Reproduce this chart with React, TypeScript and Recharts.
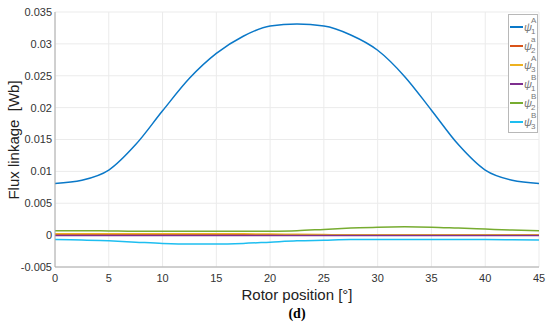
import React from "react";
import { LineChart, Line, XAxis, YAxis, CartesianGrid, Legend } from "recharts";

const positions = [0, 2.5, 5, 7.5, 10, 12.5, 15, 17.5, 20, 22.5, 25, 27.5, 30, 32.5, 35, 37.5, 40, 42.5, 45];

const psi1A = [0.0081, 0.0086, 0.0102, 0.0142, 0.0195, 0.0246, 0.0285, 0.0312, 0.0328, 0.0331, 0.0328, 0.0314, 0.029, 0.0249, 0.0196, 0.0142, 0.0102, 0.0086, 0.0081];
const psi2a = [0.00005, 0.00005, 0.00005, 0.00005, 0.00005, 0.00005, 0.00005, 0.00005, 0.00005, 0.00005, 0.00005, 0.00005, 0.00005, 0.00005, 0.00005, 0.00005, 0.00005, 0.00005, 0.00005];
const psi3A = [0.0002, 0.0002, 0.0002, 0.0002, 0.0002, 0.0002, 0.0002, 0.0002, 0.00018, 0.00012, 0.00008, 0.00005, 0.00005, 0.00005, 0.00005, 0.00005, 0.00005, 0.00005, 0.00005];
const psi1B = [-0.00005, -0.00005, -0.00005, -0.00005, -0.00005, -0.00005, -0.00005, -0.00005, -0.00005, -0.00005, -0.00005, -0.00005, -0.00005, -0.00005, -0.00005, -0.00005, -0.00005, -0.00005, -0.00005];
const psi2B = [0.0007, 0.0007, 0.00065, 0.0006, 0.0006, 0.0006, 0.0006, 0.0006, 0.00062, 0.0007, 0.0009, 0.0011, 0.00125, 0.0013, 0.00125, 0.0011, 0.00095, 0.0008, 0.0007];
const psi3B = [-0.0007, -0.00075, -0.0009, -0.0011, -0.0013, -0.0014, -0.0014, -0.0013, -0.0011, -0.0009, -0.0008, -0.0007, -0.0007, -0.0007, -0.0007, -0.0007, -0.0007, -0.00072, -0.00075];

const xTicks = [0, 5, 10, 15, 20, 25, 30, 35, 40, 45];
const yTicks = [-0.005, 0, 0.005, 0.01, 0.015, 0.02, 0.025, 0.03, 0.035];

const series = [
  { key: "psi1A", sup: "A", sub: "1", color: "#0a78c8" },
  { key: "psi2a", sup: "a", sub: "2", color: "#D95319" },
  { key: "psi3A", sup: "A", sub: "3", color: "#EDB120" },
  { key: "psi1B", sup: "B", sub: "1", color: "#7E2F8E" },
  { key: "psi2B", sup: "B", sub: "2", color: "#77AC30" },
  { key: "psi3B", sup: "B", sub: "3", color: "#1EBEF0" },
];

const data = positions.map((x, i) => ({
  x,
  psi1A: psi1A[i],
  psi2a: psi2a[i],
  psi3A: psi3A[i],
  psi1B: psi1B[i],
  psi2B: psi2B[i],
  psi3B: psi3B[i],
}));

const font = "'Liberation Sans', Arial, sans-serif";

const fmtY = (v: number) => (v === 0 ? "0" : String(Number(v.toFixed(3))));

const LegendBox = () => (
  <div
    style={{
      border: "1px solid #b8b8b8",
      background: "#fff",
      padding: "2px 1px 1px 1px",
      width: 26,
      fontFamily: font,
      color: "#777",
    }}
  >
    {series.map((s) => (
      <div key={s.key} style={{ display: "flex", alignItems: "center", height: 19 }}>
        <div style={{ width: 13, height: 2, background: s.color, marginRight: 1 }} />
        <div style={{ position: "relative", width: 12, height: 19, fontSize: 11 }}>
          <span style={{ position: "absolute", left: 0, top: 4, fontStyle: "italic" }}>ψ</span>
          <span style={{ position: "absolute", left: 7, top: -1, fontSize: 8 }}>{s.sup}</span>
          <span style={{ position: "absolute", left: 7, top: 10, fontSize: 8 }}>{s.sub}</span>
        </div>
      </div>
    ))}
  </div>
);

export default function App() {
  return (
    <div style={{ position: "absolute", left: 0, top: 0, width: 550, height: 327, background: "#fff" }}>
      <LineChart width={550} height={327} data={data} margin={{ top: 12, right: 11, left: 10, bottom: 30 }}>
        <CartesianGrid stroke="#ebebeb" vertical horizontal />
        <XAxis
          dataKey="x"
          type="number"
          domain={[0, 45]}
          ticks={xTicks}
          interval={0}
          stroke="#aaaaaa"
          tickLine={false}
          tickSize={3}
          tickMargin={4}
          tick={{ fill: "#333", fontSize: 11, fontFamily: font }}
        />
        <XAxis xAxisId="top" dataKey="x" type="number" domain={[0, 45]} orientation="top" stroke="#aaaaaa" tick={false} tickLine={false} height={0} />
        <YAxis
          type="number"
          domain={[-0.005, 0.035]}
          ticks={yTicks}
          interval={0}
          width={45}
          stroke="#aaaaaa"
          tickLine={false}
          tickSize={3}
          tickMargin={0}
          tickFormatter={fmtY}
          tick={{ fill: "#333", fontSize: 11, fontFamily: font }}
        />
        <YAxis yAxisId="right" orientation="right" domain={[-0.005, 0.035]} stroke="#aaaaaa" tick={false} tickLine={false} width={0} />
        {series.map((s) => (
          <Line
            key={s.key}
            dataKey={s.key}
            type="monotone"
            stroke={s.color}
            strokeWidth={1.5}
            dot={false}
            isAnimationActive={false}
          />
        ))}
        <Legend
          layout="vertical"
          align="center"
          verticalAlign="middle"
          content={() => <LegendBox />}
          wrapperStyle={{ position: "absolute", left: 508, top: 14, width: 30 }}
        />
      </LineChart>
      <div
        style={{
          position: "absolute",
          left: 14 - 80,
          top: 140 - 10,
          width: 160,
          height: 20,
          lineHeight: "20px",
          textAlign: "center",
          transform: "rotate(-90deg)",
          whiteSpace: "pre",
          fontFamily: font,
          fontSize: 15,
          color: "#222",
        }}
      >
        {"Flux linkage  [Wb]"}
      </div>
      <div
        style={{
          position: "absolute",
          left: 297 - 100,
          top: 295 - 10,
          width: 200,
          height: 20,
          lineHeight: "20px",
          textAlign: "center",
          whiteSpace: "pre",
          fontFamily: font,
          fontSize: 15,
          color: "#222",
        }}
      >
        Rotor position [°]
      </div>
      <div
        style={{
          position: "absolute",
          left: 297 - 30,
          top: 314 - 10,
          width: 60,
          height: 20,
          lineHeight: "20px",
          textAlign: "center",
          fontFamily: "'Liberation Serif', 'Times New Roman', serif",
          fontWeight: "bold",
          fontSize: 14,
          color: "#000",
        }}
      >
        (d)
      </div>
    </div>
  );
}
